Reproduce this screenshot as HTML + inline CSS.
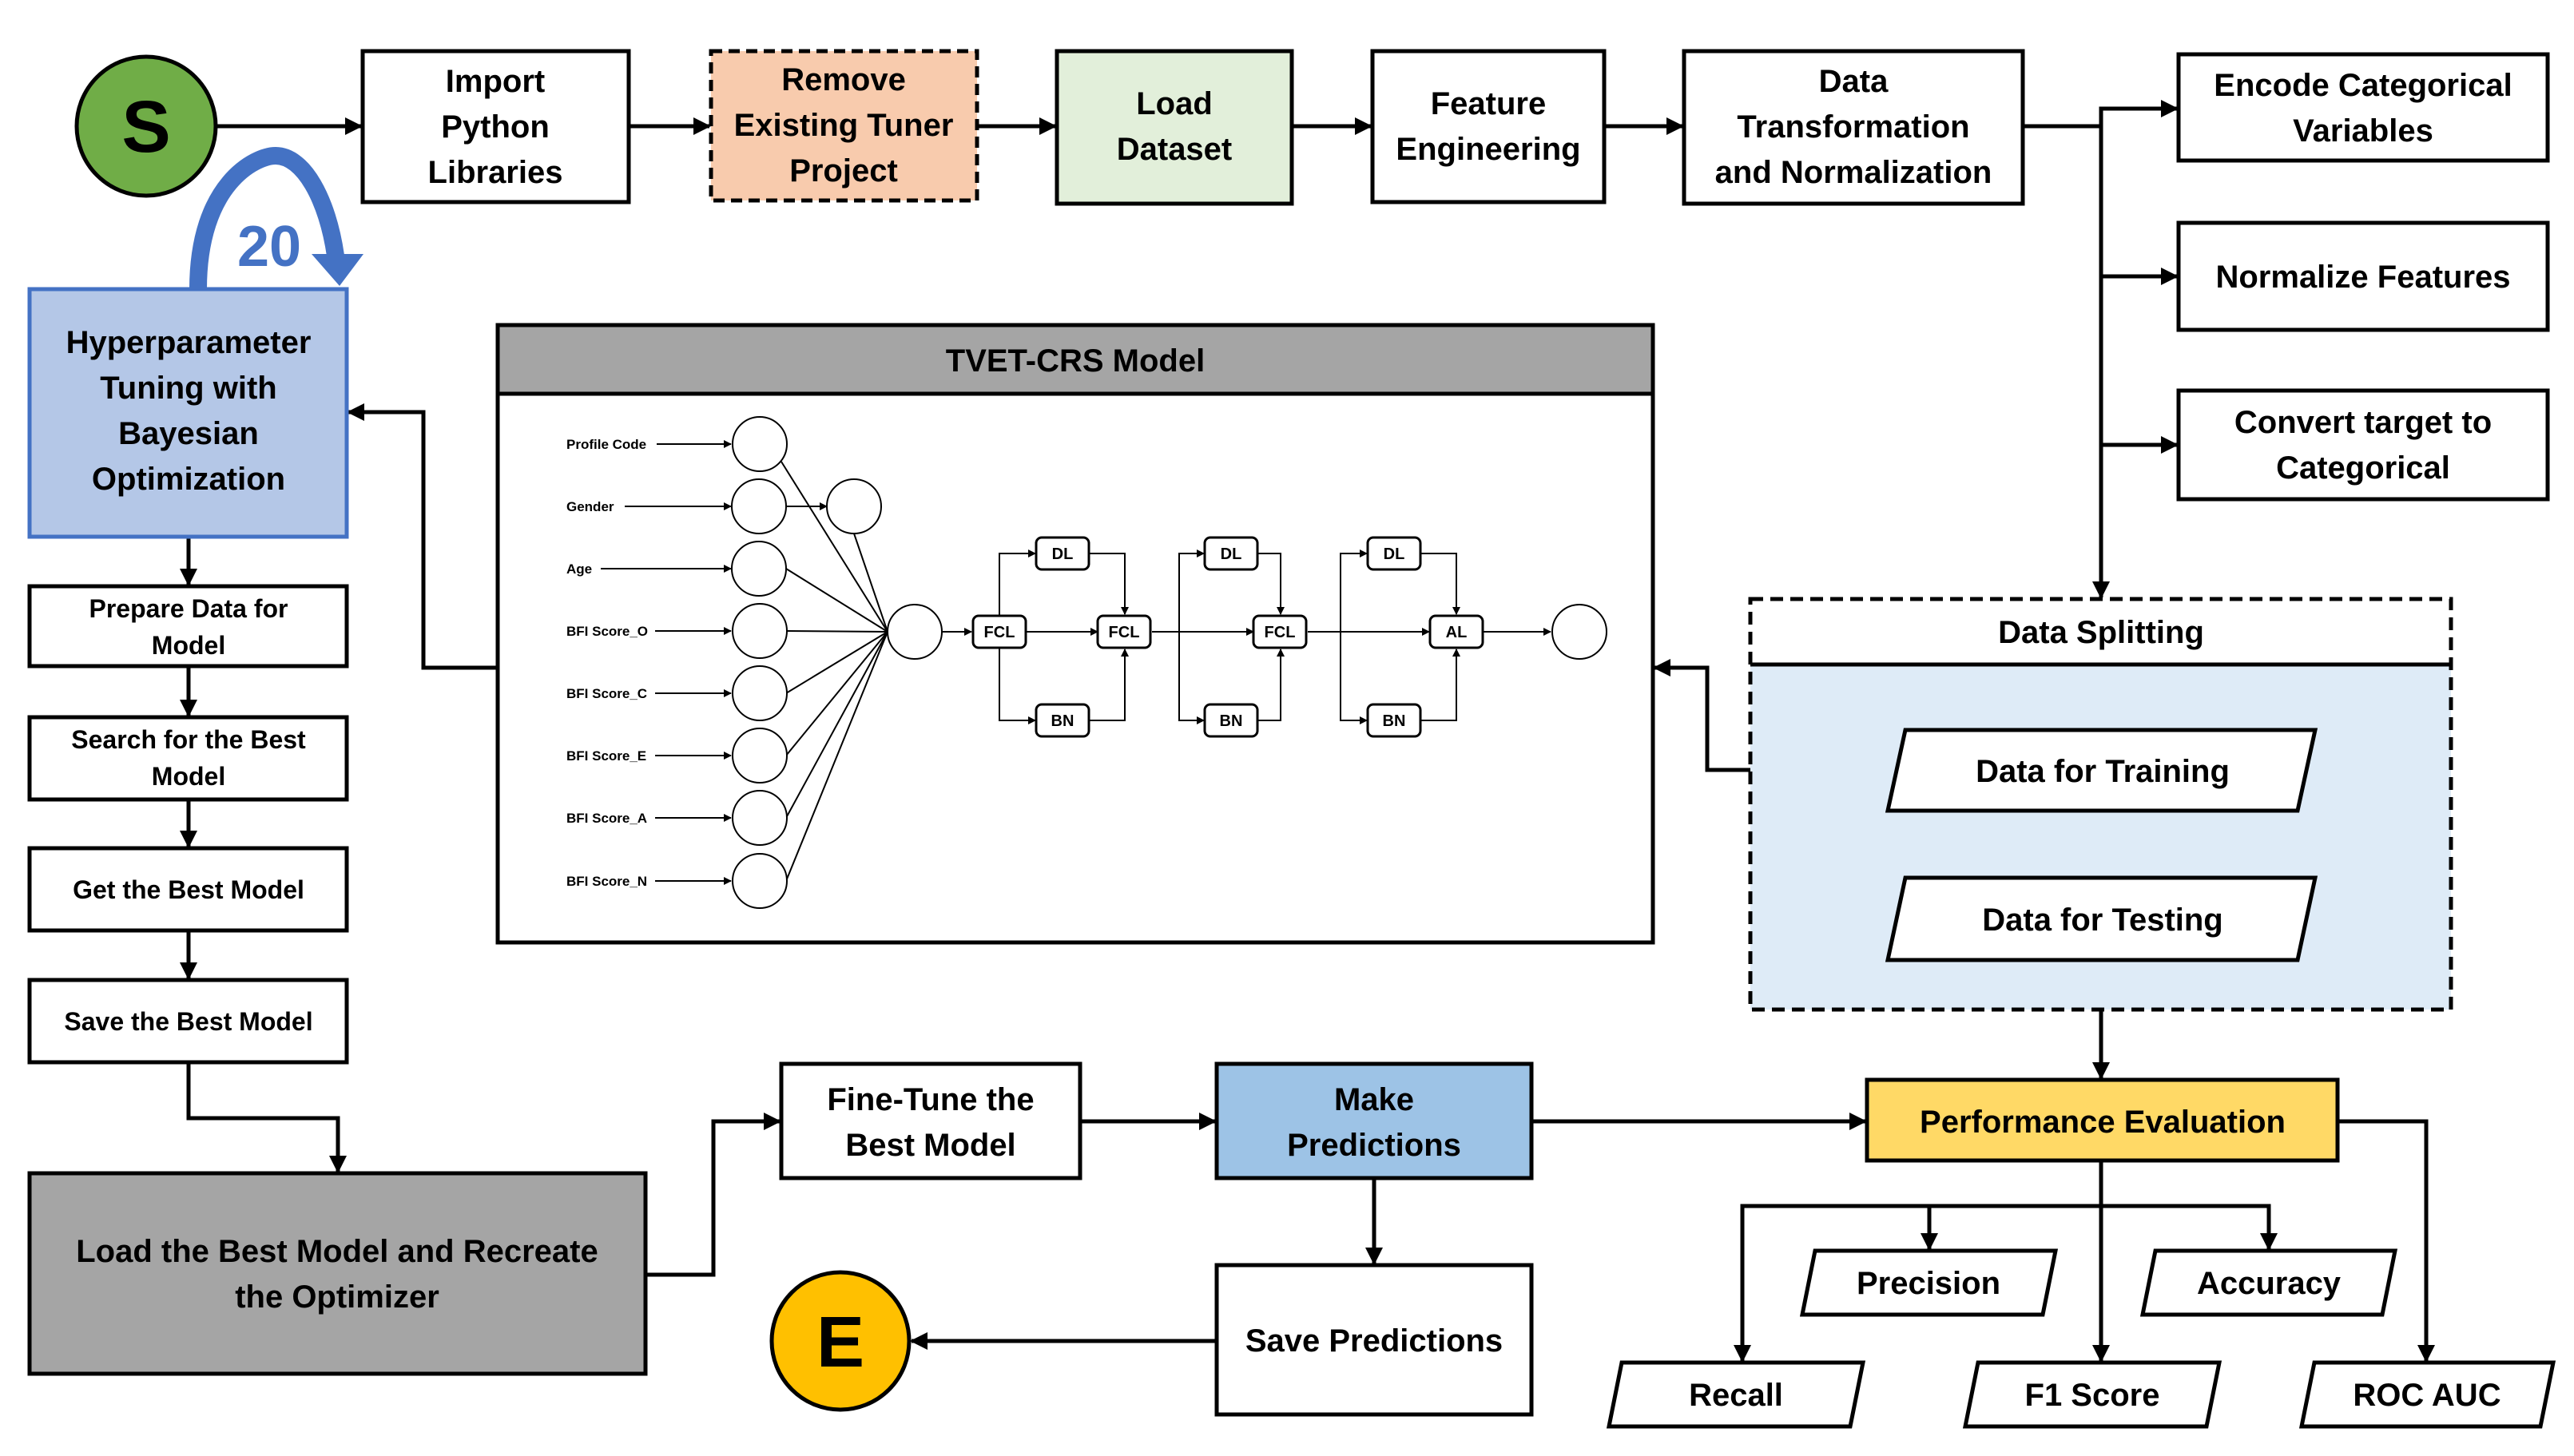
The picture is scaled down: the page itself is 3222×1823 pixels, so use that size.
<!DOCTYPE html>
<html><head><meta charset="utf-8"><style>
html,body{margin:0;padding:0;background:#fff}
svg{display:block}
text{font-family:"Liberation Sans",sans-serif;font-weight:bold;fill:#000;text-anchor:middle}
text.l{text-anchor:start}
</style></head><body>
<svg width="3222" height="1823" viewBox="0 0 3222 1823" xmlns="http://www.w3.org/2000/svg">
<defs>
<marker id="a" markerWidth="10" markerHeight="10" refX="9" refY="5" orient="auto" markerUnits="userSpaceOnUse"><path d="M0,0 L10,5 L0,10z" fill="#000"/></marker>
<marker id="A" markerWidth="22" markerHeight="22" refX="20" refY="11" orient="auto" markerUnits="userSpaceOnUse"><path d="M0,0 L22,11 L0,22z" fill="#000"/></marker>
</defs>
<g stroke="#000" stroke-width="5" fill="none" marker-end="url(#A)">
<line x1="271" y1="158" x2="452" y2="158"/>
<line x1="787" y1="158" x2="888" y2="158"/>
<line x1="1223" y1="158" x2="1321" y2="158"/>
<line x1="1617" y1="158" x2="1716" y2="158"/>
<line x1="2008" y1="158" x2="2106" y2="158"/>
<polyline points="2532,158 2630,158 2630,136 2725,136"/>
<line x1="2630" y1="346" x2="2725" y2="346"/>
<line x1="2630" y1="557" x2="2725" y2="557"/>
<line x1="2630" y1="136" x2="2630" y2="748"/>
<polyline points="2363,964 2137,964 2137,836 2071,836"/>
<polyline points="623,836 530,836 530,516 436,516"/>
<line x1="236" y1="672" x2="236" y2="732"/>
<line x1="236" y1="834" x2="236" y2="896"/>
<line x1="236" y1="1001" x2="236" y2="1060"/>
<line x1="236" y1="1165" x2="236" y2="1225"/>
<polyline points="236,1330 236,1400 423,1400 423,1467"/>
<polyline points="808,1596 893,1596 893,1404 976,1404"/>
<line x1="1352" y1="1404" x2="1521" y2="1404"/>
<line x1="1917" y1="1404" x2="2335" y2="1404"/>
<line x1="1720" y1="1475" x2="1720" y2="1582"/>
<line x1="1523" y1="1679" x2="1141" y2="1679"/>
<line x1="2630" y1="1202" x2="2630" y2="1350"/>
<line x1="2630" y1="1453" x2="2630" y2="1704"/>
<polyline points="2926,1404 3037,1404 3037,1704"/>
<polyline points="2630,1510 2181,1510 2181,1704"/>
<polyline points="2630,1510 2840,1510 2840,1564"/>
<line x1="2415" y1="1510" x2="2415" y2="1564"/>
</g>
<circle cx="183" cy="158" r="87" fill="#70ad47" stroke="#000" stroke-width="5"/>
<text x="183" y="190" font-size="92">S</text>
<g stroke="#000" stroke-width="5">
<rect x="454" y="64" width="333" height="189" fill="#fff"/>
<rect x="890" y="64" width="333" height="187" fill="#f8cbad" stroke-dasharray="14,8"/>
<rect x="1323" y="64" width="294" height="191" fill="#e2efda"/>
<rect x="1718" y="64" width="290" height="189" fill="#fff"/>
<rect x="2108" y="64" width="424" height="191" fill="#fff"/>
<rect x="2727" y="68" width="462" height="133" fill="#fff"/>
<rect x="2727" y="279" width="462" height="134" fill="#fff"/>
<rect x="2727" y="489" width="462" height="136" fill="#fff"/>
</g>
<g font-size="40">
<text x="620" y="115">Import</text><text x="620" y="172">Python</text><text x="620" y="229">Libraries</text>
<text x="1056" y="113">Remove</text><text x="1056" y="170">Existing Tuner</text><text x="1056" y="227">Project</text>
<text x="1470" y="143">Load</text><text x="1470" y="200">Dataset</text>
<text x="1863" y="143">Feature</text><text x="1863" y="200">Engineering</text>
<text x="2320" y="115">Data</text><text x="2320" y="172">Transformation</text><text x="2320" y="229">and Normalization</text>
<text x="2958" y="120">Encode Categorical</text><text x="2958" y="177">Variables</text>
<text x="2958" y="360">Normalize Features</text>
<text x="2958" y="542">Convert target to</text><text x="2958" y="599">Categorical</text>
</g>
<path d="M248,362 C248,230 320,195 345,195 C380,195 410,250 420,320" fill="none" stroke="#4472c4" stroke-width="22"/>
<path d="M390,318 L455,318 L425,358z" fill="#4472c4"/>
<text x="337" y="333" font-size="72" style="fill:#4472c4">20</text>
<g stroke="#000" stroke-width="5">
<rect x="37" y="362" width="397" height="310" fill="#b4c7e7" stroke="#4472c4"/>
<rect x="37" y="734" width="397" height="100" fill="#fff"/>
<rect x="37" y="898" width="397" height="103" fill="#fff"/>
<rect x="37" y="1062" width="397" height="103" fill="#fff"/>
<rect x="37" y="1227" width="397" height="103" fill="#fff"/>
<rect x="37" y="1469" width="771" height="251" fill="#a5a5a5"/>
</g>
<g font-size="40">
<text x="236" y="442">Hyperparameter</text><text x="236" y="499">Tuning with</text><text x="236" y="556">Bayesian</text><text x="236" y="613">Optimization</text>
</g>
<g font-size="32">
<text x="236" y="773">Prepare Data for</text><text x="236" y="819">Model</text>
<text x="236" y="937">Search for the Best</text><text x="236" y="983">Model</text>
<text x="236" y="1125">Get the Best Model</text>
<text x="236" y="1290">Save the Best Model</text>
</g>
<text x="422" y="1580" font-size="40">Load the Best Model and Recreate</text>
<text x="422" y="1637" font-size="40">the Optimizer</text>
<rect x="623" y="407" width="1446" height="773" fill="#fff" stroke="#000" stroke-width="5"/>
<rect x="623" y="407" width="1446" height="86" fill="#a5a5a5" stroke="#000" stroke-width="5"/>
<text x="1346" y="465" font-size="40">TVET-CRS Model</text>
<g font-size="17">
<text class="l" x="709" y="562">Profile Code</text><text class="l" x="709" y="640">Gender</text><text class="l" x="709" y="718">Age</text>
<text class="l" x="709" y="796">BFI Score_O</text><text class="l" x="709" y="874">BFI Score_C</text><text class="l" x="709" y="952">BFI Score_E</text>
<text class="l" x="709" y="1030">BFI Score_A</text><text class="l" x="709" y="1109">BFI Score_N</text>
</g>
<g stroke="#000" stroke-width="2" fill="none" marker-end="url(#a)">
<line x1="822" y1="556" x2="915" y2="556"/><line x1="782" y1="634" x2="915" y2="634"/>
<line x1="752" y1="712" x2="915" y2="712"/><line x1="820" y1="790" x2="915" y2="790"/>
<line x1="820" y1="868" x2="915" y2="868"/><line x1="820" y1="946" x2="915" y2="946"/>
<line x1="820" y1="1024" x2="915" y2="1024"/><line x1="820" y1="1103" x2="915" y2="1103"/>
<line x1="984" y1="634" x2="1035" y2="634"/>
<line x1="1179" y1="791" x2="1216" y2="791"/>
<line x1="1284" y1="791" x2="1374" y2="791"/>
<polyline points="1251,771 1251,693 1296,693"/><polyline points="1251,811 1251,902 1296,902"/>
<polyline points="1364,693 1408,693 1408,769"/><polyline points="1364,902 1408,902 1408,813"/>
<line x1="1442" y1="791" x2="1569" y2="791"/>
<polyline points="1476,791 1476,693 1507,693"/><polyline points="1476,791 1476,902 1507,902"/>
<polyline points="1575,693 1603,693 1603,769"/><polyline points="1575,902 1603,902 1603,813"/>
<line x1="1637" y1="791" x2="1789" y2="791"/>
<polyline points="1678,791 1678,693 1711,693"/><polyline points="1678,791 1678,902 1711,902"/>
<polyline points="1779,693 1823,693 1823,769"/><polyline points="1779,902 1823,902 1823,813"/>
<line x1="1857" y1="791" x2="1941" y2="791"/>
</g>
<g stroke="#000" stroke-width="2" fill="none">
<line x1="978" y1="578" x2="1111" y2="791"/><line x1="1069" y1="668" x2="1111" y2="791"/>
<line x1="984" y1="712" x2="1111" y2="791"/><line x1="984" y1="790" x2="1111" y2="791"/>
<line x1="984" y1="868" x2="1111" y2="791"/><line x1="984" y1="946" x2="1111" y2="791"/>
<line x1="984" y1="1024" x2="1111" y2="791"/><line x1="984" y1="1103" x2="1111" y2="791"/>
<g fill="#fff">
<circle cx="951" cy="556" r="34"/><circle cx="950" cy="634" r="34"/><circle cx="950" cy="712" r="34"/>
<circle cx="951" cy="790" r="34"/><circle cx="951" cy="868" r="34"/><circle cx="951" cy="946" r="34"/>
<circle cx="951" cy="1024" r="34"/><circle cx="951" cy="1103" r="34"/>
<circle cx="1069" cy="634" r="34"/><circle cx="1145" cy="791" r="34"/><circle cx="1977" cy="791" r="34"/>
</g>
<g fill="#fff" stroke-width="3">
<rect x="1218" y="771" width="66" height="40" rx="7"/><rect x="1374" y="771" width="66" height="40" rx="7"/>
<rect x="1569" y="771" width="66" height="40" rx="7"/><rect x="1790" y="771" width="66" height="40" rx="7"/>
<rect x="1297" y="673" width="66" height="40" rx="7"/><rect x="1297" y="882" width="66" height="40" rx="7"/>
<rect x="1508" y="673" width="66" height="40" rx="7"/><rect x="1508" y="882" width="66" height="40" rx="7"/>
<rect x="1712" y="673" width="66" height="40" rx="7"/><rect x="1712" y="882" width="66" height="40" rx="7"/>
</g>
</g>
<g font-size="20">
<text x="1251" y="798">FCL</text><text x="1407" y="798">FCL</text><text x="1602" y="798">FCL</text><text x="1823" y="798">AL</text>
<text x="1330" y="700">DL</text><text x="1541" y="700">DL</text><text x="1745" y="700">DL</text>
<text x="1330" y="909">BN</text><text x="1541" y="909">BN</text><text x="1745" y="909">BN</text>
</g>
<rect x="2191" y="832" width="877" height="432" fill="#deebf7"/>
<rect x="2191" y="750" width="877" height="514" fill="none" stroke="#000" stroke-width="5" stroke-dasharray="16,9"/>
<line x1="2191" y1="832" x2="3068" y2="832" stroke="#000" stroke-width="5"/>
<text x="2630" y="805" font-size="40">Data Splitting</text>
<g stroke="#000" stroke-width="5" fill="#fff">
<polygon points="2385,914 2898,914 2876,1015 2363,1015"/>
<polygon points="2385,1099 2898,1099 2876,1202 2363,1202"/>
<rect x="2337" y="1352" width="589" height="101" fill="#ffd966"/>
<polygon points="2272,1566 2573,1566 2557,1646 2256,1646"/>
<polygon points="2698,1566 2998,1566 2982,1646 2682,1646"/>
<polygon points="2030,1706 2332,1706 2316,1786 2014,1786"/>
<polygon points="2476,1706 2778,1706 2762,1786 2460,1786"/>
<polygon points="2897,1706 3196,1706 3180,1786 2881,1786"/>
<rect x="978" y="1332" width="374" height="143"/>
<rect x="1523" y="1332" width="394" height="143" fill="#9dc3e6"/>
<rect x="1523" y="1584" width="394" height="187"/>
</g>
<g font-size="40">
<text x="2632" y="979">Data for Training</text>
<text x="2632" y="1165">Data for Testing</text>
<text x="2632" y="1418">Performance Evaluation</text>
<text x="2414" y="1620">Precision</text><text x="2840" y="1620">Accuracy</text>
<text x="2173" y="1760">Recall</text><text x="2619" y="1760">F1 Score</text><text x="3038" y="1760">ROC AUC</text>
<text x="1165" y="1390">Fine-Tune the</text><text x="1165" y="1447">Best Model</text>
<text x="1720" y="1390">Make</text><text x="1720" y="1447">Predictions</text>
<text x="1720" y="1692">Save Predictions</text>
</g>
<circle cx="1052" cy="1679" r="86" fill="#ffc000" stroke="#000" stroke-width="5"/>
<text x="1052" y="1711" font-size="90">E</text>
</svg>
</body></html>
